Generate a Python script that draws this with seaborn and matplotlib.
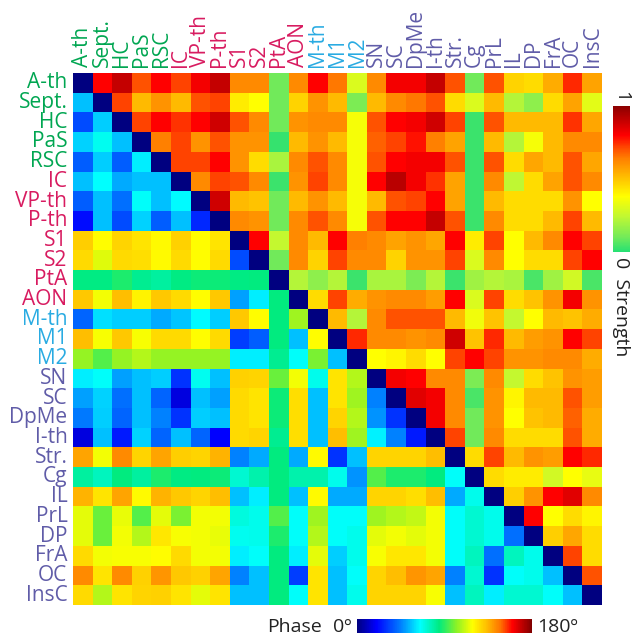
import numpy as np
import pandas as pd
import seaborn as sns
import matplotlib
matplotlib.use("Agg")
import matplotlib.pyplot as plt
from matplotlib.colors import LinearSegmentedColormap, Normalize
from matplotlib.cm import ScalarMappable

sns.set_style("white")
plt.rcParams['font.family'] = ['Open Sans', 'DejaVu Sans']

row_labels = ["A-th", "Sept.", "HC", "PaS", "RSC", "IC", "VP-th", "P-th", "S1", "S2",
              "PtA", "AON", "M-th", "M1", "M2", "SN", "SC", "DpMe", "I-th", "Str.",
              "Cg", "IL", "PrL", "DP", "FrA", "OC", "InsC"]
col_labels = ["A-th", "Sept.", "HC", "PaS", "RSC", "IC", "VP-th", "P-th", "S1", "S2",
              "PtA", "AON", "M-th", "M1", "M2", "SN", "SC", "DpMe", "I-th", "Str.",
              "Cg", "PrL", "IL", "DP", "FrA", "OC", "InsC"]
groups = ["green"] * 5 + ["magenta"] * 7 + ["cyan"] * 3 + ["purple"] * 12
group_colors = {"green": "#00a651", "magenta": "#d81b60", "cyan": "#29abe2", "purple": "#605ca8"}

# upper triangle: strength (0..1), row i holds columns i+1..26
strength_rows = [
    [0.8, 0.9, 0.7, 0.8, 0.72, 0.82, 0.9, 0.62, 0.62, 0.1, 0.62, 0.8, 0.65, 0.3, 0.62, 0.82, 0.82, 0.9, 0.7, 0.1, 0.7, 0.47, 0.45, 0.55, 0.75, 0.57],
    [0.72, 0.52, 0.6, 0.52, 0.7, 0.72, 0.42, 0.38, 0.1, 0.47, 0.6, 0.52, 0.12, 0.52, 0.62, 0.65, 0.7, 0.45, 0.3, 0.52, 0.22, 0.15, 0.45, 0.57, 0.32],
    [0.72, 0.8, 0.74, 0.8, 0.88, 0.7, 0.62, 0.1, 0.6, 0.62, 0.62, 0.36, 0.7, 0.8, 0.82, 0.88, 0.72, 0.03, 0.7, 0.52, 0.52, 0.52, 0.74, 0.56],
    [0.64, 0.72, 0.6, 0.7, 0.6, 0.6, 0.02, 0.52, 0.6, 0.52, 0.36, 0.68, 0.72, 0.78, 0.64, 0.57, 0.03, 0.52, 0.22, 0.36, 0.52, 0.62, 0.62],
    [0.72, 0.72, 0.8, 0.6, 0.45, 0.2, 0.62, 0.7, 0.62, 0.36, 0.7, 0.8, 0.82, 0.82, 0.7, 0.03, 0.7, 0.45, 0.56, 0.52, 0.7, 0.56],
    [0.62, 0.72, 0.7, 0.62, 0.03, 0.6, 0.72, 0.62, 0.36, 0.8, 0.92, 0.82, 0.74, 0.57, 0.03, 0.62, 0.24, 0.45, 0.57, 0.7, 0.62],
    [0.88, 0.52, 0.5, 0.1, 0.52, 0.6, 0.52, 0.36, 0.52, 0.7, 0.72, 0.8, 0.57, 0.03, 0.52, 0.45, 0.45, 0.45, 0.6, 0.38],
    [0.62, 0.6, 0.1, 0.62, 0.7, 0.62, 0.36, 0.7, 0.8, 0.8, 0.9, 0.7, 0.03, 0.62, 0.45, 0.45, 0.52, 0.72, 0.52],
    [0.8, 0.25, 0.62, 0.52, 0.8, 0.64, 0.62, 0.57, 0.6, 0.56, 0.8, 0.42, 0.72, 0.38, 0.52, 0.62, 0.8, 0.72],
    [0.1, 0.62, 0.47, 0.72, 0.62, 0.62, 0.47, 0.6, 0.6, 0.72, 0.3, 0.62, 0.38, 0.45, 0.45, 0.72, 0.8],
    [0.22, 0.15, 0.22, 0.03, 0.2, 0.2, 0.12, 0.22, 0.03, 0.18, 0.22, 0.2, 0.05, 0.18, 0.28, 0.05],
    [0.45, 0.72, 0.55, 0.6, 0.62, 0.62, 0.58, 0.8, 0.3, 0.72, 0.45, 0.5, 0.6, 0.82, 0.6],
    [0.52, 0.22, 0.62, 0.7, 0.7, 0.7, 0.52, 0.35, 0.5, 0.25, 0.38, 0.52, 0.5, 0.55],
    [0.75, 0.62, 0.62, 0.6, 0.62, 0.88, 0.5, 0.75, 0.52, 0.58, 0.6, 0.8, 0.72],
    [0.38, 0.4, 0.45, 0.38, 0.72, 0.8, 0.72, 0.6, 0.6, 0.62, 0.62, 0.55],
    [0.82, 0.8, 0.62, 0.62, 0.12, 0.62, 0.25, 0.45, 0.5, 0.6, 0.58],
    [0.85, 0.82, 0.62, 0.05, 0.6, 0.4, 0.52, 0.52, 0.7, 0.58],
    [0.82, 0.62, 0.1, 0.6, 0.38, 0.5, 0.52, 0.68, 0.55],
    [0.72, 0.1, 0.62, 0.45, 0.45, 0.45, 0.7, 0.55],
    [0.45, 0.72, 0.52, 0.6, 0.58, 0.8, 0.75],
    [0.45, 0.42, 0.42, 0.28, 0.38, 0.33],
    [0.48, 0.6, 0.8, 0.85, 0.62],
    [0.8, 0.38, 0.45, 0.4],
    [0.48, 0.56, 0.45],
    [0.72, 0.45],
    [0.7],
    [],
]

# lower triangle: phase (degrees), row i holds columns 0..i-1
phase_rows = [
    [],
    [55],
    [35, 57],
    [58, 67, 55],
    [38, 57, 38, 62],
    [55, 65, 52, 55, 55],
    [38, 55, 42, 66, 55, 64],
    [22, 55, 35, 58, 38, 55, 28],
    [130, 119, 128, 125, 120, 129, 119, 125],
    [127, 114, 127, 126, 120, 127, 119, 127, 35],
    [84, 84, 88, 82, 80, 84, 86, 86, 84, 85],
    [131, 117, 133, 121, 131, 127, 119, 131, 50, 62, 85],
    [40, 60, 57, 57, 52, 56, 64, 57, 131, 119, 85, 105],
    [133, 118, 131, 118, 127, 127, 119, 127, 32, 38, 85, 55, 119],
    [104, 95, 104, 108, 104, 104, 104, 104, 62, 62, 82, 66, 100, 55],
    [62, 66, 50, 55, 57, 30, 67, 55, 129, 128, 98, 117, 68, 125, 108],
    [50, 58, 42, 55, 40, 15, 55, 50, 127, 125, 86, 126, 55, 125, 105, 45],
    [44, 57, 40, 55, 45, 30, 57, 55, 127, 125, 86, 126, 55, 128, 108, 48, 30],
    [15, 55, 25, 58, 40, 55, 40, 20, 127, 128, 82, 126, 55, 133, 105, 63, 45, 25],
    [138, 117, 143, 128, 138, 130, 128, 135, 45, 52, 85, 52, 120, 30, 55, 128, 128, 128, 133],
    [80, 75, 85, 80, 88, 84, 85, 86, 72, 78, 85, 78, 78, 68, 48, 95, 88, 88, 85, 66],
    [135, 125, 138, 120, 135, 131, 128, 133, 55, 62, 85, 55, 120, 52, 52, 128, 128, 126, 133, 52, 68],
    [115, 98, 116, 95, 115, 100, 117, 117, 70, 68, 95, 66, 105, 66, 66, 105, 108, 110, 117, 66, 72, 68],
    [115, 98, 117, 108, 124, 118, 117, 116, 67, 68, 88, 66, 108, 66, 68, 115, 117, 115, 117, 66, 72, 68, 42],
    [127, 117, 118, 118, 119, 127, 117, 117, 62, 66, 85, 62, 115, 57, 68, 118, 124, 124, 117, 66, 75, 42, 75, 68],
    [143, 125, 143, 129, 141, 131, 129, 138, 45, 55, 85, 32, 125, 55, 66, 128, 133, 141, 138, 45, 72, 30, 66, 68, 55],
    [127, 108, 125, 128, 129, 125, 115, 125, 55, 55, 85, 66, 125, 55, 68, 128, 128, 128, 118, 55, 75, 62, 72, 72, 66, 55],
]

n = len(row_labels)
S = np.full((n, n), np.nan)
P = np.full((n, n), np.nan)
for i, r in enumerate(strength_rows):
    S[i, i + 1:] = r
for i, r in enumerate(phase_rows):
    P[i, :i] = r
np.fill_diagonal(P, 0.0)

S_df = pd.DataFrame(S, index=row_labels, columns=col_labels)
P_df = pd.DataFrame(P, index=row_labels, columns=col_labels)

strength_cmap = LinearSegmentedColormap.from_list("strength", [
    (0.00, (0.15, 0.88, 0.45)),
    (0.10, (0.45, 0.92, 0.35)),
    (0.24, (0.75, 0.97, 0.20)),
    (0.38, (1.00, 1.00, 0.00)),
    (0.51, (1.00, 0.75, 0.00)),
    (0.64, (1.00, 0.50, 0.00)),
    (0.71, (1.00, 0.30, 0.00)),
    (0.80, (1.00, 0.00, 0.00)),
    (0.91, (0.75, 0.00, 0.00)),
    (1.00, (0.55, 0.00, 0.00)),
])
phase_cmap = LinearSegmentedColormap.from_list("phase", [
    (0.00, (0.00, 0.00, 0.50)),
    (0.11, (0.00, 0.00, 1.00)),
    (0.25, (0.00, 0.50, 1.00)),
    (0.36, (0.00, 1.00, 1.00)),
    (0.47, (0.00, 0.92, 0.50)),
    (0.57, (0.55, 0.95, 0.15)),
    (0.66, (1.00, 1.00, 0.00)),
    (0.74, (1.00, 0.75, 0.00)),
    (0.82, (1.00, 0.45, 0.00)),
    (0.89, (1.00, 0.00, 0.00)),
    (1.00, (0.50, 0.00, 0.00)),
])

W, H = 633, 640
fig = plt.figure(figsize=(W / 100, H / 100), dpi=100)
ax = fig.add_axes([73 / W, 35 / H, 529 / W, 532 / H])

sns.heatmap(P_df, ax=ax, cmap=phase_cmap, vmin=0, vmax=180, cbar=False,
            mask=P_df.isna(), xticklabels=True, yticklabels=True)
sns.heatmap(S_df, ax=ax, cmap=strength_cmap, vmin=0, vmax=1, cbar=False,
            mask=S_df.isna(), xticklabels=True, yticklabels=True)

ax.xaxis.tick_top()
ax.tick_params(axis='both', length=0, pad=4)
ax.set_xticklabels(col_labels, rotation=90, fontsize=15, va='bottom')
ax.set_yticklabels(row_labels, rotation=0, fontsize=15, va='center')
for t, g in zip(ax.get_xticklabels(), groups):
    t.set_color(group_colors[g])
for t, g in zip(ax.get_yticklabels(), groups):
    t.set_color(group_colors[g])
ax.set_xlabel("")
ax.set_ylabel("")

# Strength colorbar (right)
cax1 = fig.add_axes([613 / W, 1 - 252 / H, 17 / W, 146 / H])
cb1 = fig.colorbar(ScalarMappable(norm=Normalize(0, 1), cmap=strength_cmap), cax=cax1)
cb1.set_ticks([])
cb1.outline.set_visible(False)
fig.text(621 / W, 1 - 102 / H, "1", rotation=-90, ha='center', va='bottom', fontsize=14, color='#222222')
fig.text(621 / W, 1 - 257 / H, "0  Strength", rotation=-90, ha='center', va='top', fontsize=14, color='#222222')

# Phase colorbar (bottom)
cax2 = fig.add_axes([357 / W, 7 / H, 175 / W, 14 / H])
cb2 = fig.colorbar(ScalarMappable(norm=Normalize(0, 180), cmap=phase_cmap), cax=cax2, orientation='horizontal')
cb2.set_ticks([])
cb2.outline.set_visible(False)
fig.text(322 / W, 13 / H, "Phase", ha='right', va='center', fontsize=14, color='#222222')
fig.text(352 / W, 13 / H, "0º", ha='right', va='center', fontsize=14, color='#222222')
fig.text(537 / W, 13 / H, "180º", ha='left', va='center', fontsize=14, color='#222222')

fig.savefig("out.png", dpi=100)
